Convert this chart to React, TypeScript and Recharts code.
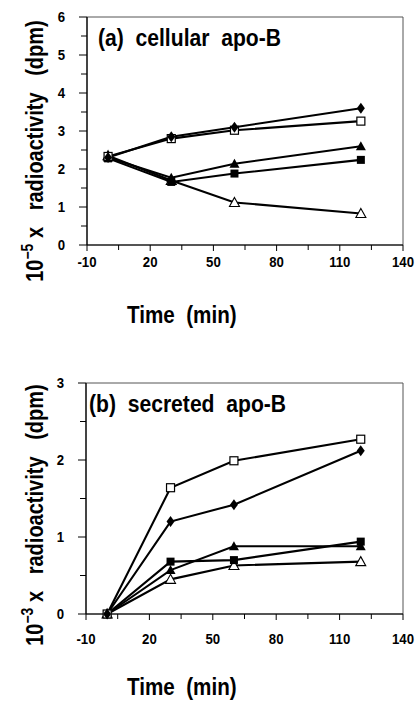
import { LineChart, Line, XAxis, YAxis, ReferenceArea, Label } from 'recharts';

const FONT = "'Liberation Sans', Arial, sans-serif";

const times = [0, 30, 60, 120];

// (a) cellular apo-B, 10^-5 x dpm
const cellDiamond = [2.3, 2.85, 3.1, 3.6];
const cellOpenSquare = [2.33, 2.8, 3.02, 3.26];
const cellTriangle = [2.3, 1.77, 2.14, 2.6];
const cellSquare = [2.28, 1.66, 1.88, 2.24];
const cellOpenTriangle = [2.35, 1.7, 1.12, 0.83];

// (b) secreted apo-B, 10^-3 x dpm
const secOpenSquare = [0, 1.64, 1.99, 2.27];
const secDiamond = [0, 1.2, 1.42, 2.12];
const secSquare = [0, 0.68, 0.7, 0.94];
const secTriangle = [0, 0.57, 0.88, 0.88];
const secOpenTriangle = [0, 0.45, 0.63, 0.68];

const xTicks = [-10, 5, 20, 35, 50, 65, 80, 95, 110, 125, 140];
const xLabels = [-10, 20, 50, 80, 110, 140];
const yTicksA = [0, 0.5, 1, 1.5, 2, 2.5, 3, 3.5, 4, 4.5, 5, 5.5, 6];
const yLabelsA = [0, 1, 2, 3, 4, 5, 6];
const yTicksB = [0, 0.5, 1, 1.5, 2, 2.5, 3];
const yLabelsB = [0, 1, 2, 3];

const buildRows = (d: number[], os: number[], tr: number[], sq: number[], ot: number[]) =>
  times.map((t, i) => ({ t, diamond: d[i], openSquare: os[i], triangle: tr[i], square: sq[i], openTriangle: ot[i] }));

const dataA = buildRows(cellDiamond, cellOpenSquare, cellTriangle, cellSquare, cellOpenTriangle);
const dataB = buildRows(secDiamond, secOpenSquare, secTriangle, secSquare, secOpenTriangle);

const makeDot = (shape: string) => (props: any) => {
  const { cx, cy, index } = props;
  const k = `${shape}-${index}`;
  if (cx == null || cy == null) return <g key={k} />;
  switch (shape) {
    case 'diamond':
      return <polygon key={k} points={`${cx},${cy - 5.5} ${cx + 4},${cy} ${cx},${cy + 5.5} ${cx - 4},${cy}`} fill="#000" />;
    case 'openSquare':
      return <rect key={k} x={cx - 4} y={cy - 4} width={8} height={8} fill="#fff" stroke="#000" strokeWidth={1.2} />;
    case 'square':
      return <rect key={k} x={cx - 4} y={cy - 4} width={8} height={8} fill="#000" />;
    case 'triangle':
      return <polygon key={k} points={`${cx},${cy - 5} ${cx + 5},${cy + 4} ${cx - 5},${cy + 4}`} fill="#000" />;
    default:
      return <polygon key={k} points={`${cx},${cy - 5} ${cx + 5},${cy + 4} ${cx - 5},${cy + 4}`} fill="#fff" stroke="#000" strokeWidth={1.1} />;
  }
};

const series = ['openTriangle', 'square', 'triangle', 'openSquare', 'diamond'];

// condensed bold text (the original face is a narrow Helvetica)
const SText = ({ x, y, sx, size, anchor = 'start', rotate = false, children }: any) => (
  <text
    transform={`translate(${x},${y})${rotate ? ' rotate(-90)' : ''} scale(${sx},1)`}
    textAnchor={anchor}
    fontFamily={FONT}
    fontWeight="bold"
    fontSize={size}
    fill="#000"
    style={{ whiteSpace: 'pre' }}
  >
    {children}
  </text>
);

const XTick = (props: any) => {
  const { x, y, payload, gap } = props;
  const major = xLabels.includes(payload.value);
  return (
    <g>
      <line x1={x} y1={y} x2={x} y2={y + (major ? 6 : 5)} stroke="#000" strokeWidth={1} />
      {major && (
        <SText x={x} y={y + gap} sx={0.88} size={15} anchor="middle">
          {payload.value}
        </SText>
      )}
    </g>
  );
};

const YTick = (props: any) => {
  const { x, y, payload, labels } = props;
  const major = labels.includes(payload.value);
  return (
    <g>
      <line x1={x} y1={y} x2={x - (major ? 8 : 6)} y2={y} stroke="#000" strokeWidth={1} />
      {major && (
        <SText x={x - 22} y={y + 5} sx={0.88} size={15} anchor="end">
          {payload.value}
        </SText>
      )}
    </g>
  );
};

const yTitle = (exp: string, cy: number) => () => (
  <SText x={43} y={cy} sx={0.87} size={23} anchor="middle" rotate>
    10<tspan fontSize={16} dy={-10}>{exp}</tspan>
    <tspan dy={10}>{' x   radioactivity   (dpm)'}</tspan>
  </SText>
);

const plain = (txt: string, x: number, y: number, size: number, sx: number) => () => (
  <SText x={x} y={y} sx={sx} size={size}>
    {txt}
  </SText>
);

function Panel({ data, yMax, yTicks, yLabels, exp, title, titleX, titleY, height, top, bottom, yLeft, tickGap, timeY, yTitleY }: any) {
  return (
    <LineChart width={415} height={height} data={data} margin={{ top, right: 12, left: 0, bottom }}>
      <XAxis
        dataKey="t"
        type="number"
        domain={[-10, 140]}
        ticks={xTicks}
        interval={0}
        tickSize={0}
        tickMargin={0}
        tickLine={false}
        height={30}
        axisLine={{ stroke: '#000', strokeWidth: 1.2 }}
        tick={<XTick gap={tickGap} />}
      >
        <Label content={plain('Time  (min)', 127, timeY, 24, 0.86)} />
      </XAxis>
      <YAxis
        type="number"
        domain={[0, yMax]}
        ticks={yTicks}
        interval={0}
        width={yLeft}
        tickSize={0}
        tickMargin={0}
        tickLine={false}
        axisLine={{ stroke: '#000', strokeWidth: 1.2 }}
        tick={<YTick labels={yLabels} />}
      >
        <Label content={yTitle(exp, yTitleY)} />
        <Label content={plain(title, titleX, titleY, 24, 0.88)} />
      </YAxis>
      <ReferenceArea x1={-10} x2={140} y1={0} y2={yMax} fill="none" stroke="#555" strokeWidth={1} />
      {series.map((s) => (
        <Line
          key={s}
          dataKey={s}
          stroke="#000"
          strokeWidth={2.1}
          dot={makeDot(s)}
          activeDot={false}
          isAnimationActive={false}
        />
      ))}
    </LineChart>
  );
}

export default function App() {
  return (
    <div style={{ position: 'absolute', left: 0, top: 0, width: 415, height: 702, background: '#fff' }}>
      <Panel
        data={dataA}
        yMax={6}
        yTicks={yTicksA}
        yLabels={yLabelsA}
        exp="−5"
        title="(a)  cellular  apo-B"
        titleX={98}
        titleY={46}
        height={350}
        top={17}
        bottom={75}
        yLeft={87}
        tickGap={22}
        timeY={323}
        yTitleY={151}
      />
      <Panel
        data={dataB}
        yMax={3}
        yTicks={yTicksB}
        yLabels={yLabelsB}
        exp="−3"
        title="(b)  secreted  apo-B"
        titleX={89}
        titleY={62}
        height={352}
        top={33}
        bottom={58}
        yLeft={86}
        tickGap={30}
        timeY={345}
        yTitleY={165}
      />
    </div>
  );
}
